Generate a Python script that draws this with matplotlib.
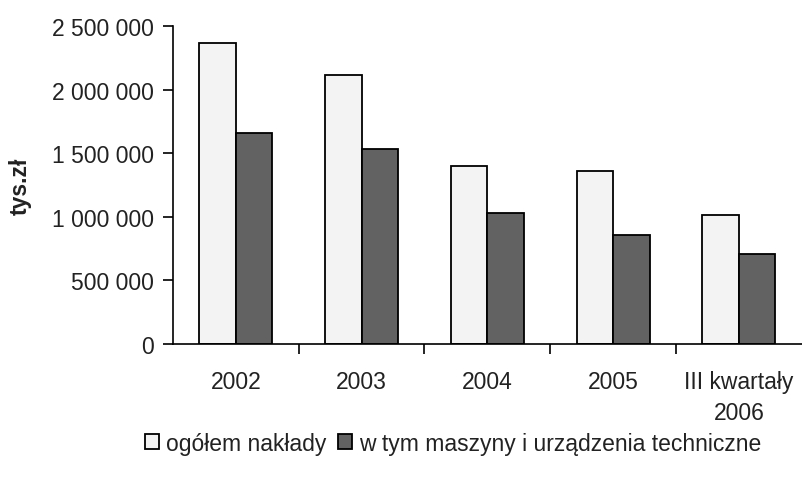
import matplotlib
matplotlib.use("Agg")
from matplotlib import pyplot as plt
from matplotlib.ticker import FuncFormatter, FixedLocator
import numpy as np

categories = ["2002", "2003", "2004", "2005", "III kwartały\n2006"]
ogolem     = [2370000, 2115000, 1402000, 1358000, 1017000]
maszyny    = [1659000, 1533000, 1030000, 854000, 705000]
labels     = ["ogółem nakłady", "w tym maszyny i urządzenia techniczne"]

plt.rcParams['font.family'] = ['Liberation Sans', 'DejaVu Sans']
txt_color = '#222222'
fs = 16.5

fig = plt.figure(figsize=(8.02, 4.89), dpi=100)
ax = fig.add_axes([0.2157, 0.2945, 0.784, 0.6503])

x = np.arange(len(categories))
w = 0.29
ax.bar(x - w/2, ogolem, w, color='#f3f3f3', edgecolor='black', linewidth=1.3, label=labels[0])
ax.bar(x + w/2, maszyny, w, color='#626262', edgecolor='black', linewidth=1.3, label=labels[1])

ax.set_xlim(-0.5, len(categories) - 0.5)
ax.set_ylim(0, 2500000)
ax.set_yticks(np.arange(0, 2500001, 500000))
ax.yaxis.set_major_formatter(FuncFormatter(lambda v, p: f"{int(v):,}".replace(",", " ")))

ax.set_xticks(x)
ax.set_xticklabels(categories, linespacing=1.45)
ax.xaxis.set_minor_locator(FixedLocator(np.arange(0.5, len(categories) - 0.5, 1)))
ax.tick_params(axis='x', which='major', length=0, pad=19, labelsize=fs, colors=txt_color)
ax.tick_params(axis='x', which='minor', length=7, width=1.2, direction='out')
ax.tick_params(axis='y', length=7, width=1.2, pad=7, labelsize=fs, labelcolor=txt_color)

for s in ['top', 'right']:
    ax.spines[s].set_visible(False)
for s in ['left', 'bottom']:
    ax.spines[s].set_linewidth(1.2)

ax.set_ylabel("tys.zł", fontsize=fs, fontweight='bold', color=txt_color, labelpad=14)

fig.legend(loc='center', bbox_to_anchor=(0.565, 0.092), ncol=2, frameon=False,
           fontsize=fs, handlelength=0.6, handleheight=0.6, handletextpad=0.3,
           columnspacing=0.5, labelcolor=txt_color)

fig.savefig("out.png", dpi=100)
